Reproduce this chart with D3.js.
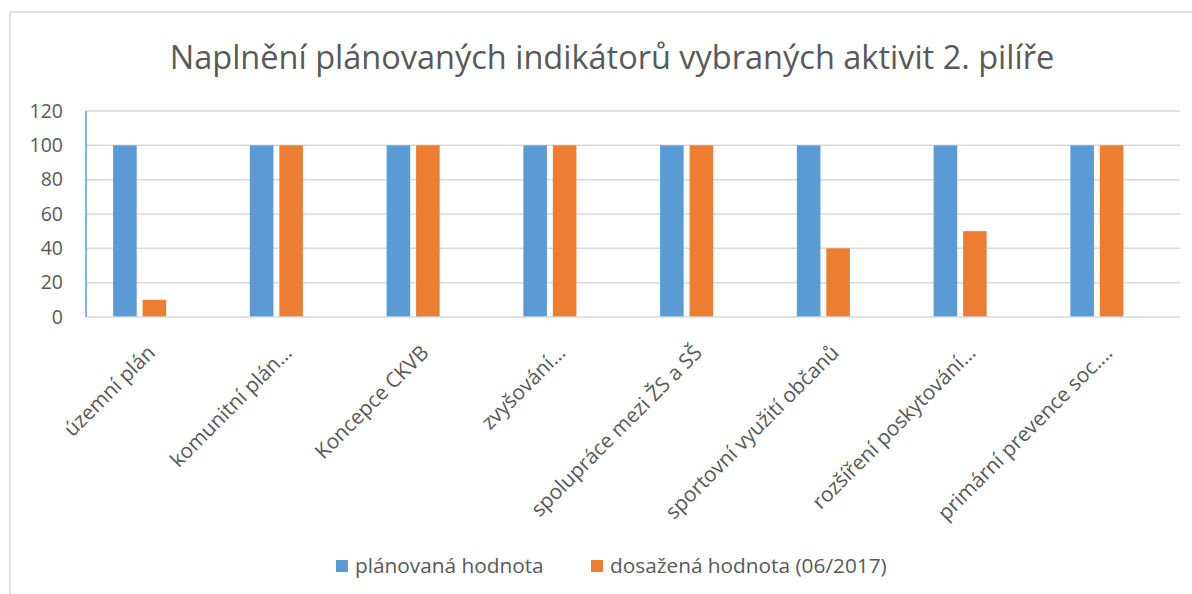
<!DOCTYPE html>
<html>
  <head>
    <meta charset="utf-8">
    <script src="https://d3js.org/d3.v7.min.js"></script>
    <style>
      body { margin: 0; background: #fff; }
      text { font-family: "Open Sans", sans-serif; fill: #595959; }
    </style>
  </head>
  <body>
    <div id="chart"></div>
    <script>
      // data
      var categories = ["územní plán", "komunitní plán…", "Koncepce CKVB", "zvyšování…",
                        "spolupráce mezi ŽS a SŠ", "sportovní využití občanů",
                        "rozšíření poskytování…", "primární prevence soc.…"];
      var planned  = [100, 100, 100, 100, 100, 100, 100, 100];
      var achieved = [10, 100, 100, 100, 100, 40, 50, 100];
      var seriesNames = ["plánovaná hodnota", "dosažená hodnota (06/2017)"];
      var colors = ["#5b9bd5", "#ed7d31"];
      var yTicks = [0, 20, 40, 60, 80, 100, 120];
      var title = "Naplnění plánovaných indikátorů vybraných aktivit 2. pilíře";

      var W = 1192, H = 594;
      var plot = {left: 86, right: 1180, top: 111, bottom: 317};

      var svg = d3.select("#chart").append("svg")
          .attr("width", W)
          .attr("height", H);

      // chart frame
      svg.append("rect")
          .attr("x", 10).attr("y", 12)
          .attr("width", 1300).attr("height", 700)
          .attr("fill", "none")
          .attr("stroke", "#d9d9d9")
          .attr("stroke-width", 1.5);

      svg.append("text")
          .attr("x", 612)
          .attr("y", 69)
          .attr("text-anchor", "middle")
          .attr("font-size", "32.5px")
          .text(title);

      var x0 = d3.scaleBand()
          .domain(categories)
          .range([plot.left, plot.right]);

      // Excel leaves a slot for a third (empty) series, so bars sit left of centre
      var x1 = d3.scaleBand()
          .domain(["plan", "achieved", "empty"])
          .range([0, x0.bandwidth()])
          .paddingInner(0.2)
          .paddingOuter(0.92);

      var y = d3.scaleLinear()
          .domain([0, 120])
          .range([plot.bottom, plot.top]);

      // gridlines
      svg.append("g")
          .selectAll("line")
          .data(yTicks.filter(function(d) { return d > 0; }))
          .enter().append("line")
            .attr("x1", plot.left).attr("x2", plot.right)
            .attr("y1", function(d) { return y(d); })
            .attr("y2", function(d) { return y(d); })
            .attr("stroke", "#d9d9d9")
            .attr("stroke-width", 1.5);

      // y tick labels
      svg.append("g")
          .selectAll("text")
          .data(yTicks)
          .enter().append("text")
            .attr("x", 63)
            .attr("y", function(d) { return y(d); })
            .attr("dy", "0.35em")
            .attr("text-anchor", "end")
            .attr("font-size", "19.5px")
            .text(function(d) { return d; });

      var rows = categories.map(function(c, i) {
        return {cat: c, values: [
          {key: "plan", v: planned[i], color: colors[0]},
          {key: "achieved", v: achieved[i], color: colors[1]}
        ]};
      });

      // bars
      svg.append("g")
        .selectAll("g")
        .data(rows)
        .enter().append("g")
          .attr("transform", function(d) { return "translate(" + x0(d.cat) + ",0)"; })
        .selectAll("rect")
        .data(function(d) { return d.values; })
        .enter().append("rect")
          .attr("x", function(d) { return x1(d.key); })
          .attr("y", function(d) { return y(d.v); })
          .attr("width", x1.bandwidth())
          .attr("height", function(d) { return y(0) - y(d.v); })
          .attr("fill", function(d) { return d.color; });

      // x axis line
      svg.append("line")
          .attr("x1", plot.left).attr("x2", plot.right)
          .attr("y1", y(0)).attr("y2", y(0))
          .attr("stroke", "#d9d9d9")
          .attr("stroke-width", 1.5);

      // left axis line (blue in the original)
      svg.append("line")
          .attr("x1", plot.left).attr("x2", plot.left)
          .attr("y1", plot.top).attr("y2", y(0))
          .attr("stroke", "#5b9bd5")
          .attr("stroke-width", 1.5);

      // category labels, rotated
      svg.append("g")
          .selectAll("text")
          .data(categories)
          .enter().append("text")
            .attr("transform", function(d) {
              return "translate(" + (x0(d) + x0.bandwidth() / 2 + 2) + ",354) rotate(-45)";
            })
            .attr("text-anchor", "end")
            .attr("font-size", "20.7px")
            .text(function(d) { return d; });

      // legend
      var legendX = [336, 591];
      var legend = svg.append("g")
          .selectAll("g")
          .data(seriesNames)
          .enter().append("g")
            .attr("transform", function(d, i) { return "translate(" + legendX[i] + ",560)"; });
      legend.append("rect")
          .attr("width", 12).attr("height", 12)
          .attr("fill", function(d, i) { return colors[i]; });
      legend.append("text")
          .attr("x", 19)
          .attr("y", 6)
          .attr("dy", "0.35em")
          .attr("font-size", "20.8px")
          .text(function(d) { return d; });
    </script>
  </body>
</html>
